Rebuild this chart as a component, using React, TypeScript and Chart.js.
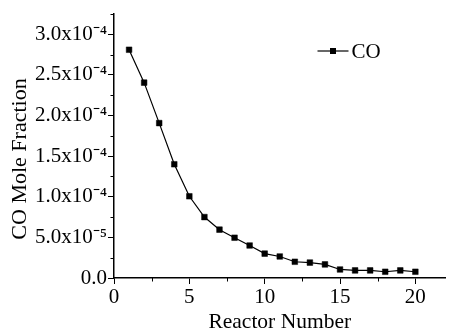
import React, { useEffect, useRef } from "react";
import { Chart, registerables } from "chart.js";

Chart.register(...registerables);

const reactorNumbers = [1, 2, 3, 4, 5, 6, 7, 8, 9, 10, 11, 12, 13, 14, 15, 16, 17, 18, 19, 20];
const coMoleFraction = [
  2.81e-4, 2.405e-4, 1.907e-4, 1.40e-4, 1.006e-4, 0.75e-4, 0.595e-4, 0.496e-4, 0.40e-4, 0.30e-4,
  0.265e-4, 0.20e-4, 0.19e-4, 0.167e-4, 0.105e-4, 0.093e-4, 0.093e-4, 0.077e-4, 0.093e-4, 0.077e-4,
];
const seriesLabel = "CO";
const xTitle = "Reactor Number";
const yTitle = "CO Mole Fraction";
const xMin = 0;
const xMax = 22;
const xStep = 5;
const yMin = 0;
const yMax = 3.25e-4;
const yStep = 0.5e-4;

const FONT = "'Liberation Serif', 'Times New Roman', serif";
const SUP: Record<string, string> = {
  "-": "\u207B", "0": "\u2070", "1": "\u00B9", "2": "\u00B2", "3": "\u00B3",
  "4": "\u2074", "5": "\u2075", "6": "\u2076", "7": "\u2077", "8": "\u2078", "9": "\u2079",
};

function sciLabel(v: number): string {
  if (Math.abs(v) < 1e-12) return "0.0";
  const exp = Math.floor(Math.log10(v) + 1e-9);
  const mant = v / Math.pow(10, exp);
  const e = String(exp).split("").map((c) => SUP[c] || c).join("");
  return mant.toFixed(1) + "x10" + e;
}

function stepTicks(min: number, max: number, step: number) {
  const out: { value: number }[] = [];
  const n = Math.floor((max - min) / step + 1e-9);
  for (let i = 0; i <= n; i++) out.push({ value: min + i * step });
  return out;
}

const extrasPlugin = {
  id: "extras",
  afterDraw(chart: any) {
    const ctx = chart.ctx;
    const area = chart.chartArea;
    const xs = chart.scales.x;
    const ys = chart.scales.y;
    ctx.save();
    ctx.strokeStyle = "#000";
    ctx.lineWidth = 1;
    // minor ticks
    for (let v = yMin + yStep / 2; v <= yMax + 1e-12; v += yStep) {
      const py = Math.round(ys.getPixelForValue(v)) + 0.5;
      ctx.beginPath();
      ctx.moveTo(area.left - 3.5, py);
      ctx.lineTo(area.left, py);
      ctx.stroke();
    }
    for (let v = xMin + xStep / 2; v <= xMax; v += xStep) {
      const px = Math.round(xs.getPixelForValue(v)) + 0.5;
      ctx.beginPath();
      ctx.moveTo(px, area.bottom);
      ctx.lineTo(px, area.bottom + 3.5);
      ctx.stroke();
    }
    // y title
    ctx.fillStyle = "#000";
    ctx.font = `22px ${FONT}`;
    ctx.textAlign = "center";
    ctx.textBaseline = "middle";
    ctx.translate(ys.left + 20, (area.top + area.bottom) / 2 + 13);
    ctx.rotate(-Math.PI / 2);
    ctx.fillText(yTitle, 0, 0);
    ctx.restore();

    // legend
    ctx.save();
    const ly = area.top + 37;
    const lx = area.right - 128;
    ctx.strokeStyle = "#000";
    ctx.lineWidth = 1.2;
    ctx.beginPath();
    ctx.moveTo(lx, ly);
    ctx.lineTo(lx + 31, ly);
    ctx.stroke();
    ctx.fillStyle = "#000";
    ctx.fillRect(lx + 15.5 - 3, ly - 3, 6, 6);
    ctx.font = `21px ${FONT}`;
    ctx.textAlign = "left";
    ctx.textBaseline = "middle";
    ctx.fillText(seriesLabel, lx + 34, ly + 1);
    ctx.restore();
  },
};

export default function App() {
  const canvasRef = useRef<HTMLCanvasElement | null>(null);

  useEffect(() => {
    document.body.style.margin = "0";
    const canvas = canvasRef.current;
    if (!canvas) return;
    const chart = new Chart(canvas, {
      type: "line",
      data: {
        datasets: [
          {
            label: seriesLabel,
            data: reactorNumbers.map((x, i) => ({ x, y: coMoleFraction[i] })),
            borderColor: "#000",
            backgroundColor: "#000",
            borderWidth: 1.2,
            pointStyle: "rect",
            pointRadius: 4,
            pointBorderWidth: 0.5,
            pointBackgroundColor: "#000",
            pointBorderColor: "#000",
            tension: 0,
            fill: false,
          },
        ],
      },
      options: {
        animation: false,
        responsive: false,
        maintainAspectRatio: false,
        layout: { padding: { top: 14, right: 0, left: 0, bottom: 0 } },
        plugins: {
          legend: { display: false },
          tooltip: { enabled: false },
        },
        scales: {
          x: {
            type: "linear",
            min: xMin,
            max: xMax,
            position: "bottom",
            afterBuildTicks: (s: any) => {
              s.ticks = stepTicks(xMin, xMax, xStep);
            },
            afterFit: (s: any) => {
              s.height = 53;
            },
            ticks: {
              stepSize: xStep,
              color: "#000",
              font: { family: FONT, size: 21 },
              padding: 1,
              maxRotation: 0,
              autoSkip: false,
              callback: (v: any) => String(v),
            },
            grid: {
              drawOnChartArea: false,
              drawTicks: true,
              tickLength: 6,
              color: "#000",
              lineWidth: 1,
            },
            border: { display: true, color: "#000", width: 1.5 },
            title: {
              display: true,
              text: xTitle,
              color: "#000",
              font: { family: FONT, size: 21.5 },
              padding: { top: 0, bottom: -4 },
            },
          },
          y: {
            type: "linear",
            min: yMin,
            max: yMax,
            position: "left",
            afterBuildTicks: (s: any) => {
              s.ticks = stepTicks(yMin, yMax, yStep);
            },
            afterFit: (s: any) => {
              s.width = 114;
            },
            ticks: {
              stepSize: yStep,
              color: "#000",
              font: { family: FONT, size: 21 },
              padding: 1,
              autoSkip: false,
              callback: (v: any) => sciLabel(Number(v)),
            },
            grid: {
              drawOnChartArea: false,
              drawTicks: true,
              tickLength: 6,
              color: "#000",
              lineWidth: 1,
            },
            border: { display: true, color: "#000", width: 1.5 },
            title: { display: false },
          },
        },
      },
      plugins: [extrasPlugin],
    } as any);
    return () => chart.destroy();
  }, []);

  return (
    <div style={{ width: 450, height: 331, background: "#fff" }}>
      <canvas ref={canvasRef} width={450} height={331} style={{ display: "block" }} />
    </div>
  );
}
